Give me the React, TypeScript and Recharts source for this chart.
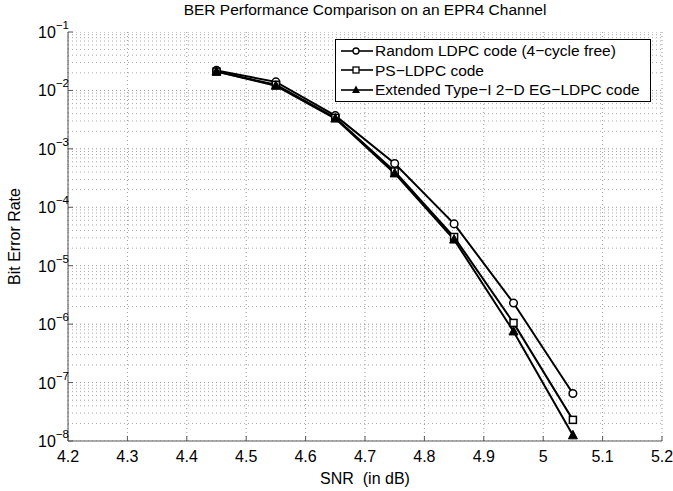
import React from "react";
import {
  LineChart,
  Line,
  XAxis,
  YAxis,
  CartesianGrid,
  ReferenceLine,
} from "recharts";

const snr = [4.45, 4.55, 4.65, 4.75, 4.85, 4.95, 5.05];
const randomLdpc = [2.2e-2, 1.4e-2, 3.7e-3, 5.6e-4, 5.2e-5, 2.3e-6, 6.5e-8];
const psLdpc = [2.1e-2, 1.25e-2, 3.4e-3, 4.1e-4, 3.1e-5, 1.05e-6, 2.3e-8];
const egLdpc = [2.1e-2, 1.2e-2, 3.3e-3, 3.8e-4, 2.8e-5, 7.5e-7, 1.25e-8];

const xTicks = [4.2, 4.3, 4.4, 4.5, 4.6, 4.7, 4.8, 4.9, 5, 5.1, 5.2];
const yTicks = [1e-8, 1e-7, 1e-6, 1e-5, 1e-4, 1e-3, 1e-2, 1e-1];
const minorMults = [2, 3, 4, 5, 6, 7, 8, 9];

const seriesNames = [
  "Random LDPC code (4\u2212cycle free)",
  "PS\u2212LDPC code",
  "Extended Type\u2212I 2\u2212D EG\u2212LDPC code",
];

const data = snr.map((s, i) => ({
  snr: s,
  rnd: randomLdpc[i],
  ps: psLdpc[i],
  eg: egLdpc[i],
}));

const minorLines: number[] = [];
yTicks.slice(0, -1).forEach((d) => minorMults.forEach((m) => minorLines.push(d * m)));

const FONT = "'Liberation Sans', Arial, Helvetica, sans-serif";

const YTick = (props: any) => {
  const { x, y, payload } = props;
  const exp = Math.round(Math.log10(payload.value));
  return (
    <text x={x - 2} y={y + 6} textAnchor="end" fontSize={16} fontFamily={FONT} fill="#000">
      10
      <tspan dy={-9} fontSize={11.5}>
        {"\u2212" + Math.abs(exp)}
      </tspan>
    </text>
  );
};

const CircleDot = (props: any) => (
  <circle cx={props.cx} cy={props.cy} r={3.8} fill="#fff" stroke="#000" strokeWidth={1.5} />
);
const SquareDot = (props: any) => (
  <rect x={props.cx - 3.5} y={props.cy - 3.5} width={7} height={7} fill="#fff" stroke="#000" strokeWidth={1.5} />
);
const TriDot = (props: any) => (
  <polygon
    points={`${props.cx},${props.cy - 5} ${props.cx - 4.5},${props.cy + 3.5} ${props.cx + 4.5},${props.cy + 3.5}`}
    fill="#000"
    stroke="#000"
    strokeWidth={1}
  />
);

const legendMarks = [
  <circle cx={16} cy={8} r={3} fill="#fff" stroke="#000" strokeWidth={1.3} />,
  <rect x={13} y={5} width={6} height={6} fill="#fff" stroke="#000" strokeWidth={1.3} />,
  <polygon points="16,3.5 12,11 20,11" fill="#000" />,
];

const LegendBox = () => (
  <div
    style={{
      position: "absolute",
      left: 335,
      top: 39,
      width: 306,
      background: "#fff",
      border: "1px solid #000",
      padding: "1px 4px 1px 4px",
      fontFamily: FONT,
      fontSize: 15.5,
      lineHeight: "19.5px",
      color: "#000",
    }}
  >
    {seriesNames.map((n, i) => (
      <div key={n} style={{ display: "flex", alignItems: "center", whiteSpace: "nowrap" }}>
        <svg width={34} height={16} style={{ marginRight: 1 }}>
          <line x1={1} y1={8} x2={33} y2={8} stroke="#000" strokeWidth={1.6} />
          {legendMarks[i]}
        </svg>
        <span>{n}</span>
      </div>
    ))}
  </div>
);

export default function App() {
  return (
    <div style={{ position: "fixed", left: 0, top: 0, width: 673, height: 491, background: "#fff" }}>
      <div
        style={{
          position: "absolute",
          top: 1,
          left: 68,
          width: 594,
          textAlign: "center",
          fontFamily: FONT,
          fontSize: 15.5,
          color: "#000",
        }}
      >
        BER Performance Comparison on an EPR4 Channel
      </div>
      <LineChart
        width={673}
        height={491}
        data={data}
        margin={{ top: 32, right: 11, left: 8, bottom: 20 }}
      >
        <CartesianGrid horizontal={false} stroke="#999" strokeDasharray="1 3" />
        {minorLines.map((v) => (
          <ReferenceLine key={"m" + v} y={v} stroke="#aaa" strokeDasharray="1 3" ifOverflow="hidden" />
        ))}
        {yTicks.map((v) => (
          <ReferenceLine key={"M" + v} y={v} stroke="#999" strokeDasharray="1 3" ifOverflow="hidden" />
        ))}
        <XAxis
          dataKey="snr"
          type="number"
          domain={[4.2, 5.2]}
          ticks={xTicks}
          tickFormatter={(v: number) => String(Math.round(v * 10) / 10)}
          height={30}
          axisLine={{ stroke: "#555" }}
          tickLine={{ stroke: "#555" }}
          tickSize={-5}
          tickMargin={15}
          tick={{ fill: "#000", fontSize: 16, fontFamily: FONT }}
          label={{ value: "SNR\u00a0\u00a0(in dB)", position: "insideBottom", offset: -13, fill: "#000", fontSize: 16, fontFamily: FONT }}
        />
        <XAxis
          xAxisId="top"
          orientation="top"
          type="number"
          domain={[4.2, 5.2]}
          ticks={xTicks}
          height={0}
          tick={false}
          tickSize={-5}
          axisLine={{ stroke: "#555" }}
          tickLine={{ stroke: "#555" }}
        />
        <YAxis
          scale="log"
          domain={[1e-8, 1e-1]}
          ticks={yTicks}
          allowDataOverflow
          width={60}
          axisLine={{ stroke: "#555" }}
          tickLine={{ stroke: "#555" }}
          tickSize={-5}
          tick={<YTick />}
          label={{
            value: "Bit Error Rate",
            angle: -90,
            position: "insideLeft",
            offset: 0,
            dx: 6,
            fill: "#000",
            fontSize: 16,
            fontFamily: FONT,
            style: { textAnchor: "middle" },
          }}
        />
        <YAxis
          yAxisId="right"
          orientation="right"
          scale="log"
          domain={[1e-8, 1e-1]}
          ticks={yTicks}
          width={0}
          tick={false}
          tickSize={-5}
          axisLine={{ stroke: "#555" }}
          tickLine={{ stroke: "#555" }}
        />
        <Line dataKey="rnd" stroke="#000" strokeWidth={2} dot={<CircleDot />} isAnimationActive={false} />
        <Line dataKey="ps" stroke="#000" strokeWidth={2} dot={<SquareDot />} isAnimationActive={false} />
        <Line dataKey="eg" stroke="#000" strokeWidth={2} dot={<TriDot />} isAnimationActive={false} />
      </LineChart>
      <LegendBox />
    </div>
  );
}
